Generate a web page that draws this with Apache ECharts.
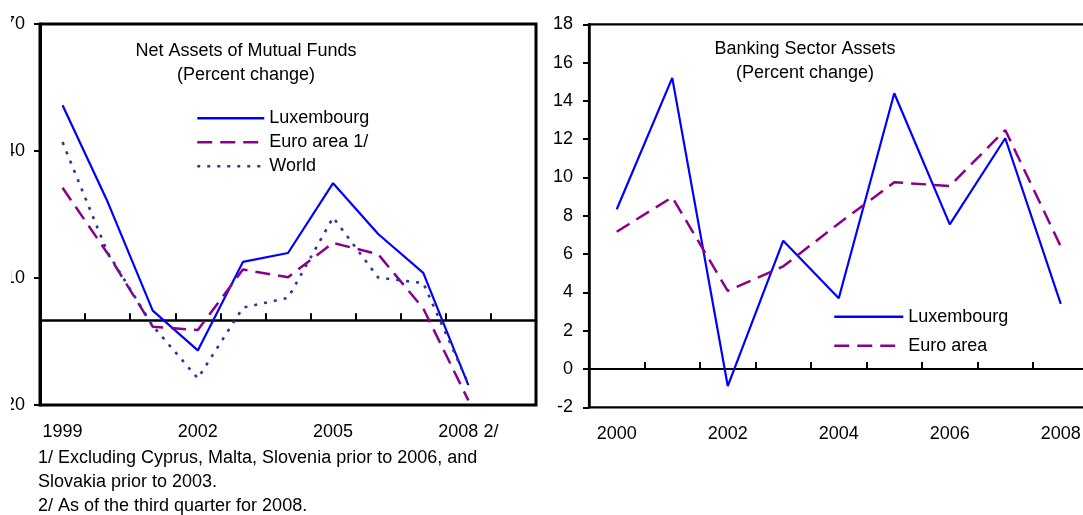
<!DOCTYPE html>
<html lang="en">
<head>
<meta charset="UTF-8">
<title>Mutual funds and banking sector assets</title>
<script src="https://cdn.jsdelivr.net/npm/echarts@6/dist/echarts.min.js"></script>
<style>
    html, body {
        margin: 0;
        padding: 0;
        background: #fff;
        overflow: hidden;
    }
    #wrap {
        position: relative;
        width: 1083px;
        height: 515px;
        overflow: hidden;
    }
    /* left chart starts a bit right of the page edge so its tick labels get cut off like in the source */
    #left {
        position: absolute;
        left: 11px;
        top: 0;
        width: 530px;
        height: 515px;
    }
    #right {
        position: absolute;
        left: 540px;
        top: 0;
        width: 560px;
        height: 515px;
    }
</style>
</head>
<body>
<div id="wrap">
    <div id="left"></div>
    <div id="right"></div>
</div>

<script>
    // Net assets of mutual funds, percent change
    const fundYears = ['1999', '2000', '2001', '2002', '2003', '2004', '2005', '2006', '2007', '2008 2/', ''];
    const fundTicks = [-20, 10, 40, 70];
    const luxFunds = [50.8, 28.0, 2.3, -7.1, 13.8, 15.9, 32.4, 20.4, 11.2, -15.3];
    const euroFunds = [31.3, 15.8, -1.5, -2.3, 12.0, 10.2, 18.3, 15.6, 2.8, -18.9];
    const worldFunds = [42.1, 16.0, -1.3, -13.7, 3.0, 5.3, 24.3, 10.1, 8.8, -15.0];

    // Banking sector assets, percent change
    const bankYears = ['2000', '2001', '2002', '2003', '2004', '2005', '2006', '2007', '2008'];
    const luxBank = [8.34, 15.2, -0.89, 6.70, 3.69, 14.4, 7.55, 12.05, 3.4];
    const euroBank = [7.17, 8.97, 4.08, 5.36, 7.6, 9.75, 9.56, 12.48, 6.4];

    const FONT = "'Liberation Sans', Arial, sans-serif";
    const BLUE = '#0000ff';
    const PURPLE = '#8b008b';
    const NAVY = '#333399';

    function textEl(x, y, text, align) {
        return {
            type: 'text',
            x: x,
            y: y,
            silent: true,
            style: {
                text: text,
                fill: '#000',
                font: '18px ' + FONT,
                lineHeight: 24,
                align: align,
                textAlign: align,
                verticalAlign: 'top',
                textVerticalAlign: 'top'
            }
        };
    }

    function tickAxis(cats, w) {
        return {
            type: 'category',
            data: cats,
            position: 'bottom',
            boundaryGap: true,
            axisLine: { onZero: true, lineStyle: { color: '#000', width: w } },
            axisTick: { show: true, inside: true, length: 7, interval: 0, lineStyle: { color: '#000', width: 2 } },
            axisLabel: { show: false },
            splitLine: { show: false }
        };
    }

    function labelAxis(cats, every) {
        return {
            type: 'category',
            data: cats,
            position: 'bottom',
            boundaryGap: true,
            axisLine: { show: false, onZero: false },
            axisTick: { show: false },
            axisLabel: { interval: every, margin: 18, color: '#000', fontSize: 18, fontFamily: FONT },
            splitLine: { show: false }
        };
    }

    // legend: plain line samples, the symbol is hidden
    function legendBox(left, top, width, gap, names) {
        return {
            orient: 'vertical',
            left: left,
            top: top,
            padding: 0,
            itemWidth: width,
            itemHeight: 18,
            itemGap: gap,
            itemStyle: { color: 'rgba(0,0,0,0)', borderWidth: 0, opacity: 0 },
            lineStyle: { width: 2.5 },
            textStyle: { color: '#000', fontSize: 18, fontFamily: FONT },
            data: names
        };
    }

    // ---- left: mutual funds
    const leftChart = echarts.init(document.getElementById('left'));
    leftChart.setOption({
        animation: false,
        grid: {
            left: 29, top: 24, width: 496, height: 381,
            outerBoundsMode: 'none', containLabel: false,
            show: true, borderColor: '#000', borderWidth: 3
        },
        legend: legendBox(185, 109.3, 67, 6, ['Luxembourg', 'Euro area 1/', 'World']),
        xAxis: [tickAxis(fundYears, 2.5), labelAxis(fundYears, 2)],
        yAxis: {
            type: 'value',
            min: -20,
            max: 70,
            axisLine: { show: true, lineStyle: { color: '#000', width: 3 } },
            axisTick: { show: true, length: 6, customValues: fundTicks, lineStyle: { color: '#000', width: 2 } },
            axisLabel: { margin: 15, customValues: fundTicks, color: '#000', fontSize: 18, fontFamily: FONT },
            splitLine: { show: false }
        },
        series: [
            {
                name: 'Luxembourg', type: 'line', data: luxFunds, symbol: 'none',
                lineStyle: { color: BLUE, width: 2.2 }, itemStyle: { color: BLUE }
            },
            {
                name: 'Euro area 1/', type: 'line', data: euroFunds, symbol: 'none',
                lineStyle: { color: PURPLE, width: 2.5, type: [15, 8] }, itemStyle: { color: PURPLE }
            },
            {
                name: 'World', type: 'line', data: worldFunds, symbol: 'none',
                lineStyle: { color: NAVY, width: 2.6, type: [3, 7] }, itemStyle: { color: NAVY }
            }
        ],
        graphic: [
            textEl(235, 38.7, 'Net Assets of Mutual Funds\n(Percent change)', 'center'),
            textEl(27, 446, '1/ Excluding Cyprus, Malta, Slovenia prior to 2006, and\nSlovakia prior to 2003.\n2/ As of the third quarter for 2008.', 'left')
        ]
    });

    // ---- right: banking sector
    const rightChart = echarts.init(document.getElementById('right'));
    rightChart.setOption({
        animation: false,
        grid: {
            left: 49, top: 24.3, width: 499.5, height: 383,
            outerBoundsMode: 'none', containLabel: false,
            show: true, borderColor: '#000', borderWidth: 2.2
        },
        legend: legendBox(293, 307.7, 69, 11, ['Luxembourg', 'Euro area']),
        xAxis: [tickAxis(bankYears, 2), labelAxis(bankYears, 1)],
        yAxis: {
            type: 'value',
            min: -2,
            max: 18,
            interval: 2,
            axisLine: { show: true, lineStyle: { color: '#000', width: 2.5 } },
            axisTick: { show: true, length: 6, lineStyle: { color: '#000', width: 2 } },
            axisLabel: { margin: 16, color: '#000', fontSize: 18, fontFamily: FONT },
            splitLine: { show: false }
        },
        series: [
            {
                name: 'Luxembourg', type: 'line', data: luxBank, symbol: 'none',
                lineStyle: { color: BLUE, width: 2.2 }, itemStyle: { color: BLUE }
            },
            {
                name: 'Euro area', type: 'line', data: euroBank, symbol: 'none',
                lineStyle: { color: PURPLE, width: 2.5, type: [15, 8] }, itemStyle: { color: PURPLE }
            }
        ],
        graphic: [
            textEl(265, 37.5, 'Banking Sector Assets\n(Percent change)', 'center')
        ]
    });
</script>
</body>
</html>
